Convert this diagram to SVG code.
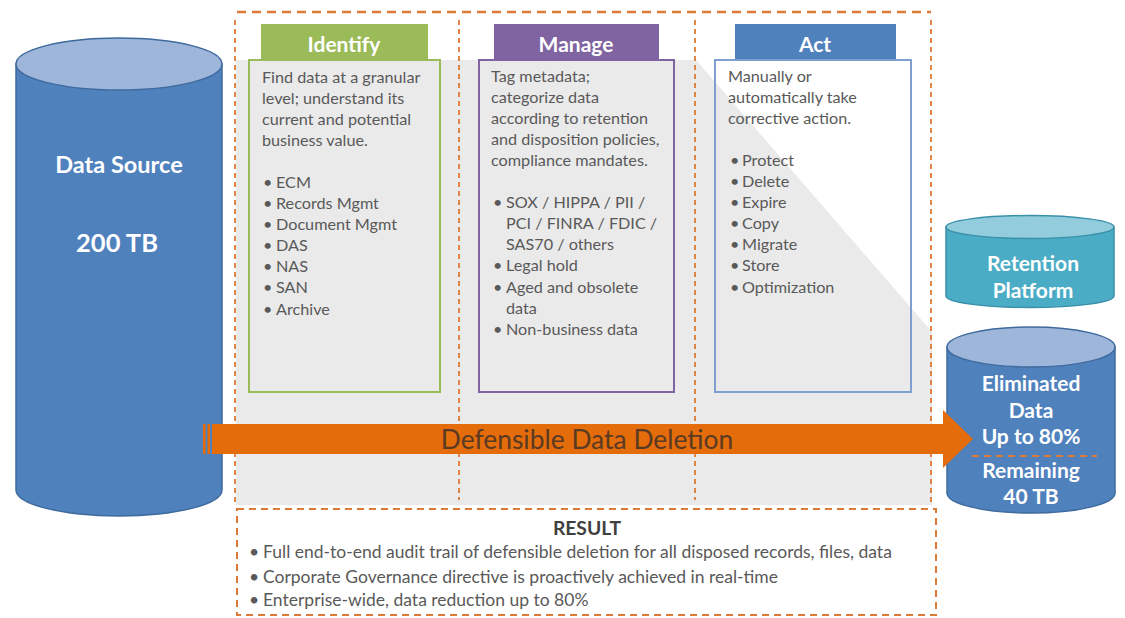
<svg xmlns="http://www.w3.org/2000/svg" width="1125" height="618" viewBox="0 0 1125 618">
<style>
.body{font-family:Lato,"Liberation Sans",sans-serif;font-size:16.2px;fill:#595959}
.res{font-family:Lato,"Liberation Sans",sans-serif;font-size:17.5px;fill:#595959}
.hdr{font-family:Lato,"Liberation Sans",sans-serif;font-size:21px;font-weight:bold;fill:#ffffff;text-anchor:middle}
.cyl{font-family:Lato,"Liberation Sans",sans-serif;font-weight:bold;fill:#ffffff;text-anchor:middle}
.dash{fill:none;stroke:#DD7A35;stroke-width:2.6}
.dashs{fill:none;stroke:#DD7A35;stroke-width:1.8;stroke-dasharray:5 4}
</style>
<rect width="1125" height="618" fill="#ffffff"/>
<g id="background">
<polygon points="236,60 696,60 932,332 932,505 236,505" fill="#EAEAEA"/>
<line x1="237" y1="12" x2="931" y2="12" class="dash" stroke-dasharray="9 6"/>
<line x1="235" y1="20" x2="235" y2="505" class="dashs"/>
<line x1="931" y1="20" x2="931" y2="505" class="dashs"/>
<line x1="459" y1="20" x2="459" y2="500" class="dashs"/>
<line x1="695" y1="20" x2="695" y2="500" class="dashs"/>
</g>
<g id="identify">
<rect x="261" y="24" width="167" height="36" fill="#9BBB59"/>
<text x="344" y="52" class="hdr">Identify</text>
<rect x="249" y="60" width="191" height="332" fill="none" stroke="#9BBB59" stroke-width="2"/>
<text class="body"><tspan x="262" y="83">Find data at a granular</tspan><tspan x="262" y="104">level; understand its</tspan><tspan x="262" y="125">current and potential</tspan><tspan x="262" y="146">business value.</tspan></text>
<text class="body"><tspan x="263" y="188">•</tspan><tspan x="276" y="188">ECM</tspan><tspan x="263" y="209">•</tspan><tspan x="276" y="209">Records Mgmt</tspan><tspan x="263" y="230">•</tspan><tspan x="276" y="230">Document Mgmt</tspan><tspan x="263" y="251">•</tspan><tspan x="276" y="251">DAS</tspan><tspan x="263" y="272">•</tspan><tspan x="276" y="272">NAS</tspan><tspan x="263" y="293">•</tspan><tspan x="276" y="293">SAN</tspan><tspan x="263" y="315">•</tspan><tspan x="276" y="315">Archive</tspan></text>
</g>
<g id="manage">
<rect x="494" y="24" width="165" height="36" fill="#8064A2"/>
<text x="576" y="52" class="hdr">Manage</text>
<rect x="479" y="60" width="195" height="332" fill="none" stroke="#8064A2" stroke-width="2"/>
<text class="body"><tspan x="491" y="82">Tag metadata;</tspan><tspan x="491" y="103">categorize data</tspan><tspan x="491" y="124">according to retention</tspan><tspan x="491" y="145">and disposition policies,</tspan><tspan x="491" y="166">compliance mandates.</tspan></text>
<text class="body"><tspan x="493" y="208">•</tspan><tspan x="506" y="208">SOX / HIPPA / PII /</tspan><tspan x="506" y="229">PCI / FINRA / FDIC /</tspan><tspan x="506" y="250">SAS70 / others</tspan><tspan x="493" y="271">•</tspan><tspan x="506" y="271">Legal hold</tspan><tspan x="493" y="293">•</tspan><tspan x="506" y="293">Aged and obsolete</tspan><tspan x="506" y="314">data</tspan><tspan x="493" y="335">•</tspan><tspan x="506" y="335">Non-business data</tspan></text>
</g>
<g id="act">
<rect x="735" y="24" width="161" height="36" fill="#4F81BD"/>
<text x="815" y="52" class="hdr">Act</text>
<rect x="715" y="60" width="196" height="332" fill="none" stroke="#7F9FD0" stroke-width="2"/>
<text class="body"><tspan x="728" y="82">Manually or</tspan><tspan x="728" y="103">automatically  take</tspan><tspan x="728" y="124">corrective action.</tspan></text>
<text class="body"><tspan x="730" y="166">•</tspan><tspan x="742" y="166">Protect</tspan><tspan x="730" y="187">•</tspan><tspan x="742" y="187">Delete</tspan><tspan x="730" y="208">•</tspan><tspan x="742" y="208">Expire</tspan><tspan x="730" y="229">•</tspan><tspan x="742" y="229">Copy</tspan><tspan x="730" y="250">•</tspan><tspan x="742" y="250">Migrate</tspan><tspan x="730" y="271">•</tspan><tspan x="742" y="271">Store</tspan><tspan x="730" y="293">•</tspan><tspan x="742" y="293">Optimization</tspan></text>
</g>
<g id="data-source">
<path d="M16,64 V490 A103,26 0 0 0 222,490 V64 Z" fill="#4F81BD" stroke="#3F6A9E" stroke-width="1.5"/>
<ellipse cx="119" cy="64" rx="103" ry="26" fill="#9DB6DA" stroke="#3F6A9E" stroke-width="1.5"/>
<text x="119" y="173" class="cyl" font-size="23.5">Data Source</text>
<text x="117" y="252" class="cyl" font-size="25.5">200 TB</text>
</g>
<g id="retention-platform">
<path d="M946,227 V296 A84,11.5 0 0 0 1114,296 V227 Z" fill="#4BACC6" stroke="#3A90A8" stroke-width="1.5"/>
<ellipse cx="1030" cy="227" rx="84" ry="11.5" fill="#93CDDD" stroke="#3A90A8" stroke-width="1.5"/>
<text x="1033" y="271" class="cyl" font-size="21">Retention</text>
<text x="1033" y="298" class="cyl" font-size="21">Platform</text>
</g>
<g id="eliminated-data">
<path d="M947,347 V493 A84,20 0 0 0 1115,493 V347 Z" fill="#4F81BD" stroke="#3F6A9E" stroke-width="1.5"/>
<ellipse cx="1031" cy="347" rx="84" ry="20" fill="#9DB6DA" stroke="#3F6A9E" stroke-width="1.5"/>
<text x="1031" y="391" class="cyl" font-size="21">Eliminated</text>
<text x="1031" y="418" class="cyl" font-size="21">Data</text>
<text x="1031" y="444" class="cyl" font-size="21">Up to 80%</text>
<line x1="972" y1="456" x2="1097" y2="456" stroke="#DD7A35" stroke-width="2" stroke-dasharray="7 5"/>
<text x="1031" y="478" class="cyl" font-size="21">Remaining</text>
<text x="1031" y="504" class="cyl" font-size="21">40 TB</text>
</g>
<g id="connectors">
<rect x="203" y="424" width="2.5" height="30" fill="#E46C0A"/>
<rect x="207.5" y="424" width="2.5" height="30" fill="#E46C0A"/>
<polygon points="212,424 943,424 943,410 973,439 943,468 943,454 212,454" fill="#E46C0A"/>
<text x="587" y="449" font-family="Lato,'Liberation Sans',sans-serif" font-size="26.4" fill="#5A3A22" text-anchor="middle">Defensible Data Deletion</text>
</g>
<g id="result">
<rect x="237" y="509" width="699" height="106" fill="#ffffff" stroke="#DD7A35" stroke-width="2" stroke-dasharray="7 5"/>
<text x="587" y="535" font-family="Lato,'Liberation Sans',sans-serif" font-size="19.3" font-weight="bold" fill="#404040" text-anchor="middle">RESULT</text>
<text class="res"><tspan x="249" y="558">•</tspan><tspan x="263" y="558">Full end-to-end audit trail of defensible deletion for all disposed records, files, data</tspan><tspan x="249" y="583">•</tspan><tspan x="263" y="583">Corporate Governance directive is proactively achieved in real-time</tspan><tspan x="249" y="606">•</tspan><tspan x="263" y="606">Enterprise-wide, data reduction up to 80%</tspan></text>
</g>
</svg>
